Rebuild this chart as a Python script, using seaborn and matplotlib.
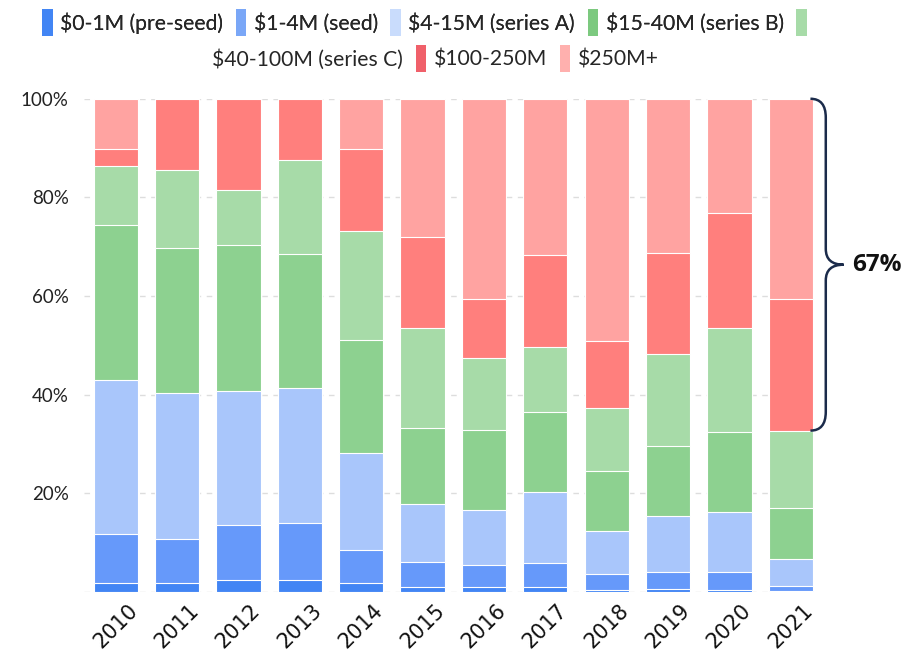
import matplotlib
matplotlib.use("Agg")
import matplotlib.pyplot as plt
from matplotlib.patches import Patch, PathPatch
from matplotlib.path import Path
import seaborn as sns
import pandas as pd
import numpy as np

years = ["2010", "2011", "2012", "2013", "2014", "2015", "2016", "2017", "2018", "2019", "2020", "2021"]
labels = ["$0-1M (pre-seed)", "$1-4M (seed)", "$4-15M (series A)", "$15-40M (series B)",
          "$40-100M (series C)", "$100-250M", "$250M+"]
pre_seed = [1.7, 1.9, 2.4, 2.4, 1.9, 1.0, 0.9, 1.0, 0.4, 0.6, 0.4, 0.2]
seed = [10.0, 8.8, 11.2, 11.5, 6.6, 5.0, 4.6, 4.9, 3.2, 3.5, 3.7, 1.0]
series_a = [31.3, 29.6, 27.2, 27.5, 19.6, 11.8, 11.1, 14.3, 8.8, 11.3, 12.1, 5.5]
series_b = [31.3, 29.5, 29.5, 27.1, 23.0, 15.4, 16.3, 16.2, 12.1, 14.1, 16.3, 10.4]
series_c = [12.1, 15.7, 11.2, 19.1, 22.0, 20.4, 14.6, 13.3, 12.8, 18.7, 21.0, 15.6]
m100_250 = [3.5, 14.5, 18.5, 12.4, 16.8, 18.4, 11.9, 18.7, 13.6, 20.5, 23.3, 26.7]
m250_plus = [10.1, 0.0, 0.0, 0.0, 10.1, 28.0, 40.6, 31.6, 49.1, 31.3, 23.2, 40.6]
colors = ["#4285f4", "#6699fa", "#a9c6fb", "#8dd190", "#a7dba8", "#ff7f7d", "#ffa3a1"]
legend_colors = ["#4285f4", "#7aa7f7", "#c9dcfc", "#7cc97f", "#a7dba8", "#f0606a", "#ffb0ae"]
bracket_label = "67%"

series = [pre_seed, seed, series_a, series_b, series_c, m100_250, m250_plus]
df = pd.DataFrame({lab: vals for lab, vals in zip(labels, series)})
df["year"] = years
cum = df[labels].cumsum(axis=1)

sns.set_theme(style="white")
plt.rcParams["font.family"] = ["Lato", "DejaVu Sans"]

fig = plt.figure(figsize=(9.11, 6.54), dpi=100)
ax = fig.add_axes([0.092, 0.095, 0.803, 0.754])

for i in range(len(labels) - 1, -1, -1):
    sns.barplot(x=df["year"], y=cum[labels[i]], order=years, color=colors[i],
                saturation=1, width=0.72, edgecolor="white", linewidth=0.8, ax=ax, zorder=3)

ax.set_ylim(0, 100)
ax.set_xlim(-0.52, 11.4)
ax.set_yticks([0, 20, 40, 60, 80, 100])
ax.set_yticklabels(["", "20%", "40%", "60%", "80%", "100%"], fontsize=13.5, color="#222222")
ax.set_xlabel("")
ax.set_ylabel("")
ax.tick_params(axis="x", length=0, pad=6)
ax.tick_params(axis="y", length=0, pad=11)
for t in ax.get_xticklabels():
    t.set_rotation(45)
    t.set_ha("center")
    t.set_fontsize(15)
    t.set_color("#111111")
    t.set_family(["DejaVu Sans"])
for s in ax.spines.values():
    s.set_visible(False)
ax.yaxis.grid(True, linestyle=(0, (4, 4)), color="#dddddd", linewidth=1, zorder=0)
ax.set_axisbelow(True)

# Curly bracket around 2021's top two segments
ytop = 100.0
ybot = cum[labels[4]].iloc[-1]
ymid = (ytop + ybot) / 2
x0, x1, x2 = 11.32, 11.57, 11.86
r = 3.8
rm = 3.2
verts = [(x0, ytop), (x1, ytop), (x1, ytop - r),
         (x1, ymid + rm),
         (x1, ymid), (x2, ymid),
         (x1, ymid), (x1, ymid - rm),
         (x1, ybot + r),
         (x1, ybot), (x0, ybot)]
codes = [Path.MOVETO, Path.CURVE3, Path.CURVE3,
         Path.LINETO,
         Path.CURVE3, Path.CURVE3,
         Path.CURVE3, Path.CURVE3,
         Path.LINETO,
         Path.CURVE3, Path.CURVE3]
brace = PathPatch(Path(verts, codes), facecolor="none", edgecolor="#1b2b4b", lw=1.8,
                  clip_on=False, zorder=5)
ax.add_patch(brace)
ax.text(12.0, ymid, bracket_label, fontsize=17.5, fontweight="bold", color="#111111",
        va="center", ha="left", family=["Open Sans", "DejaVu Sans"])

# Legend in two rows (the fifth label wraps onto the second row)
h = [Patch(facecolor=c, edgecolor="none") for c in legend_colors]
row1 = fig.legend(h[:5], labels[:4] + [""], loc="upper center", ncol=5,
                  bbox_to_anchor=(0.47, 1.015), frameon=False, fontsize=15.2,
                  handlelength=0.5, handleheight=1.6, handletextpad=0.35, columnspacing=0.6)
blank = Patch(facecolor="none", edgecolor="none")
row2 = fig.legend([blank] + h[5:], labels[4:], loc="upper center", ncol=3,
                  bbox_to_anchor=(0.468, 0.96), frameon=False, fontsize=15.2,
                  handlelength=0.5, handleheight=1.6, handletextpad=0.35, columnspacing=0.6)
fig.add_artist(row1)

fig.savefig("out.png", dpi=100)
